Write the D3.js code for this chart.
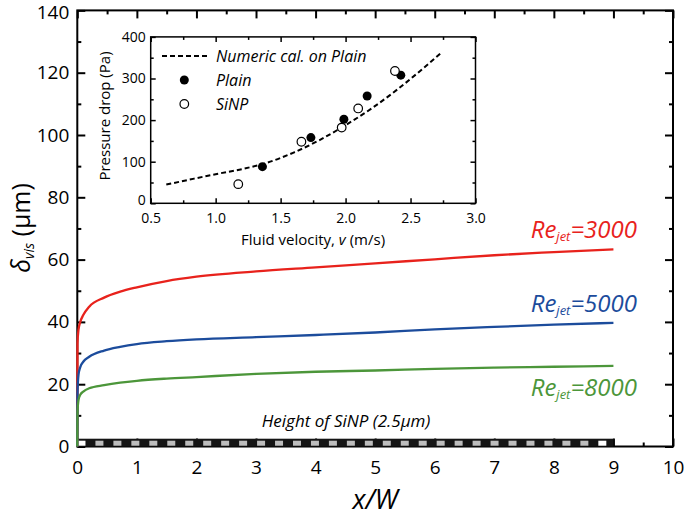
<!DOCTYPE html>
<html lang="en">
<head>
<meta charset="utf-8">
<script src="https://cdn.jsdelivr.net/npm/d3@7/dist/d3.min.js"></script>
<style>
body { margin:0; background:#fff; }
svg { display:block; font-family:"Open Sans", sans-serif; }
.frame { fill:none; stroke:#000; stroke-width:2; }
.tick line { stroke:#000; stroke-width:2; }
.inset .tick line { stroke-width:1.5; }
.curve { fill:none; stroke-width:2.3; }
</style>
</head>
<body>
<svg id="chart" width="685" height="518"></svg>
<script>
// main chart: viscous sublayer thickness vs x/W
var xw = [0, 0.003, 0.02, 0.05, 0.1, 0.2, 0.45, 0.72, 1.0, 1.5, 2.0, 3.0, 4.0, 5.0, 6.0, 7.0, 8.0, 9.0];
var re3000 = [0, 33, 37.5, 40, 42.2, 44.9, 47.8, 49.7, 51.1, 53.1, 54.5, 56.2, 57.5, 58.8, 60.1, 61.4, 62.4, 63.3];
var re5000 = [0, 17, 23, 25.5, 27.2, 28.8, 30.8, 32, 32.9, 33.8, 34.4, 35.1, 35.8, 36.6, 37.6, 38.4, 39.1, 39.7];
var re8000 = [0, 11, 14.9, 16.6, 17.6, 18.7, 19.7, 20.5, 21.1, 21.8, 22.3, 23.3, 24.0, 24.4, 24.9, 25.3, 25.6, 25.9];
var seriesNames = ['3000', '5000', '8000'];
var seriesColors = ['#e8221c', '#1c4c9c', '#4c963a'];
var labelY = [67, 43.3, 16.2];   // label baseline value
var sinpHeight = 2.5, sinpEnd = 9;

// inset: pressure drop vs velocity
var numV = [0.62, 0.8, 1.0, 1.2, 1.4, 1.6, 1.8, 2.0, 2.2, 2.4, 2.6, 2.73];
var numP = [45, 57, 70, 82, 98, 122, 152, 188, 228, 274, 325, 360];
var plainV = [1.36, 1.733, 1.987, 2.166, 2.425];
var plainP = [88, 158, 202, 258, 308];
var sinpV = [1.174, 1.66, 1.97, 2.097, 2.38];
var sinpP = [46, 148, 182, 228, 318];

var svg = d3.select('#chart');
var x = d3.scaleLinear().domain([0, 10]).range([77.3, 673]);
var y = d3.scaleLinear().domain([0, 140]).range([446.5, 10.4]);

// frame
svg.append('rect').attr('class', 'frame')
	.attr('x', x(0)).attr('y', y(140))
	.attr('width', x(10) - x(0)).attr('height', y(0) - y(140));

function ticksOn(g, axis) { g.call(axis); g.select('.domain').remove(); }

var xMaj = d3.range(0, 11), xMin = d3.range(0.5, 10, 1);
var yMaj = d3.range(0, 141, 20), yMin = d3.range(10, 140, 20);

// bottom
svg.append('g').attr('transform', 'translate(0,' + y(0) + ')')
	.call(ticksOn, d3.axisBottom(x).tickValues(xMaj).tickSizeInner(-8).tickPadding(14).tickFormat(d3.format('d')))
	.selectAll('text').attr('font-size', 19).attr('fill', '#000').attr('font-family', 'Open Sans');
svg.append('g').attr('transform', 'translate(0,' + y(0) + ')')
	.call(ticksOn, d3.axisBottom(x).tickValues(xMin).tickSizeInner(-4).tickFormat(''));
// top
svg.append('g').attr('transform', 'translate(0,' + y(140) + ')')
	.call(ticksOn, d3.axisTop(x).tickValues(xMaj).tickSizeInner(-8).tickFormat(''));
svg.append('g').attr('transform', 'translate(0,' + y(140) + ')')
	.call(ticksOn, d3.axisTop(x).tickValues(xMin).tickSizeInner(-4).tickFormat(''));
// left
svg.append('g').attr('transform', 'translate(' + x(0) + ',0)')
	.call(ticksOn, d3.axisLeft(y).tickValues(yMaj).tickSizeInner(-8).tickPadding(8).tickFormat(d3.format('d')))
	.selectAll('text').attr('font-size', 19).attr('fill', '#000').attr('font-family', 'Open Sans')
	.attr('dy', function(d) { return d === 140 ? '0.42em' : '0.32em'; });
svg.append('g').attr('transform', 'translate(' + x(0) + ',0)')
	.call(ticksOn, d3.axisLeft(y).tickValues(yMin).tickSizeInner(-4).tickFormat(''));
// right
svg.append('g').attr('transform', 'translate(' + x(10) + ',0)')
	.call(ticksOn, d3.axisRight(y).tickValues(yMaj).tickSizeInner(-8).tickFormat(''));
svg.append('g').attr('transform', 'translate(' + x(10) + ',0)')
	.call(ticksOn, d3.axisRight(y).tickValues(yMin).tickSizeInner(-4).tickFormat(''));

// axis titles
svg.append('text').attr('x', (x(0) + x(10)) / 2).attr('y', 509)
	.attr('text-anchor', 'middle').attr('font-size', 27).attr('font-style', 'italic')
	.text('x/W');
var yt = svg.append('text').attr('transform', 'translate(30,' + 228 + ') rotate(-90)')
	.attr('text-anchor', 'middle').attr('font-size', 25);
yt.append('tspan').attr('font-style', 'italic').text('δ');
yt.append('tspan').attr('font-style', 'italic').attr('font-size', 14).attr('dy', 4).text('vis');
yt.append('tspan').attr('dy', -4).text(' (μm)');

// SiNP bar
var gBar = svg.append('g');
gBar.append('rect').attr('x', x(0)).attr('y', y(sinpHeight))
	.attr('width', x(sinpEnd) - x(0)).attr('height', y(0) - y(sinpHeight)).attr('fill', '#151515');
var sq = d3.range(0, 30);
gBar.selectAll('rect.sq').data(sq).enter().append('rect').attr('class', 'sq')
	.attr('x', function(d) { return x(0.07 + d * 0.3015) - 4; })
	.attr('y', y(sinpHeight) + 2).attr('width', 8).attr('height', 5)
	.attr('fill', function(d) { return (d === 0 || d === 29) ? '#fff' : '#bdbdbd'; });
svg.append('text').attr('x', 346).attr('y', 427).attr('text-anchor', 'middle')
	.attr('font-size', 17).attr('font-style', 'italic').text('Height of SiNP (2.5μm)');

// curves (drawn red, blue, green)
var line = d3.line().x(function(d) { return x(d[0]); }).y(function(d) { return y(d[1]); })
	.curve(d3.curveMonotoneX);
[re3000, re5000, re8000].forEach(function(s, i) {
	var pts = xw.map(function(v, j) { return [v, s[j]]; });
	svg.append('path').attr('class', 'curve').attr('stroke', seriesColors[i]).attr('d', line(pts));
	var t = svg.append('text').attr('x', 637).attr('y', y(labelY[i]))
		.attr('text-anchor', 'end').attr('font-style', 'italic').attr('font-size', 24)
		.attr('fill', seriesColors[i]);
	t.append('tspan').text('Re');
	t.append('tspan').attr('font-size', 13).attr('dy', 3).text('jet');
	t.append('tspan').attr('dy', -3).text('=' + seriesNames[i]);
});

// ---- inset ----
var ix = d3.scaleLinear().domain([0.5, 3.0]).range([150.7, 475.5]);
var iy = d3.scaleLinear().domain([0, 400]).range([203.3, 36.9]);
var inset = svg.append('g').attr('class', 'inset');
inset.append('rect').attr('x', ix(0.5)).attr('y', iy(400))
	.attr('width', ix(3) - ix(0.5)).attr('height', iy(0) - iy(400)).attr('fill', '#fff')
	.attr('stroke', '#000').attr('stroke-width', 1.5);
var ixMaj = d3.range(0.5, 3.01, 0.5), ixMin = d3.range(0.75, 3, 0.5);
var iyMaj = d3.range(0, 401, 100), iyMin = d3.range(50, 400, 100);
inset.append('g').attr('transform', 'translate(0,' + iy(0) + ')')
	.call(ticksOn, d3.axisBottom(ix).tickValues(ixMaj).tickSizeInner(-5).tickPadding(10).tickFormat(d3.format('.1f')))
	.selectAll('text').attr('font-size', 14).attr('fill', '#000').attr('font-family', 'Open Sans');
inset.append('g').attr('transform', 'translate(0,' + iy(0) + ')')
	.call(ticksOn, d3.axisBottom(ix).tickValues(ixMin).tickSizeInner(-3).tickFormat(''));
inset.append('g').attr('transform', 'translate(0,' + iy(400) + ')')
	.call(ticksOn, d3.axisTop(ix).tickValues(ixMaj).tickSizeInner(-5).tickFormat(''));
inset.append('g').attr('transform', 'translate(0,' + iy(400) + ')')
	.call(ticksOn, d3.axisTop(ix).tickValues(ixMin).tickSizeInner(-3).tickFormat(''));
inset.append('g').attr('transform', 'translate(' + ix(0.5) + ',0)')
	.call(ticksOn, d3.axisLeft(iy).tickValues(iyMaj).tickSizeInner(-5).tickPadding(5).tickFormat(d3.format('d')))
	.selectAll('text').attr('font-size', 14).attr('fill', '#000').attr('font-family', 'Open Sans')
	.attr('dy', function(d) { return d === 0 ? '0.1em' : '0.32em'; });
inset.append('g').attr('transform', 'translate(' + ix(0.5) + ',0)')
	.call(ticksOn, d3.axisLeft(iy).tickValues(iyMin).tickSizeInner(-3).tickFormat(''));
inset.append('g').attr('transform', 'translate(' + ix(3) + ',0)')
	.call(ticksOn, d3.axisRight(iy).tickValues(iyMaj).tickSizeInner(-5).tickFormat(''));
inset.append('g').attr('transform', 'translate(' + ix(3) + ',0)')
	.call(ticksOn, d3.axisRight(iy).tickValues(iyMin).tickSizeInner(-3).tickFormat(''));

var iline = d3.line().x(function(d) { return ix(d[0]); }).y(function(d) { return iy(d[1]); })
	.curve(d3.curveMonotoneX);
inset.append('path').attr('fill', 'none').attr('stroke', '#000').attr('stroke-width', 2)
	.attr('stroke-dasharray', '5,3')
	.attr('d', iline(numV.map(function(v, i) { return [v, numP[i]]; })));
inset.selectAll('circle.plain').data(plainV).enter().append('circle').attr('class', 'plain')
	.attr('cx', function(d) { return ix(d); }).attr('cy', function(d, i) { return iy(plainP[i]); })
	.attr('r', 4.5).attr('fill', '#000');
inset.selectAll('circle.sinp').data(sinpV).enter().append('circle').attr('class', 'sinp')
	.attr('cx', function(d) { return ix(d); }).attr('cy', function(d, i) { return iy(sinpP[i]); })
	.attr('r', 4.3).attr('fill', '#fff').attr('stroke', '#000').attr('stroke-width', 1.2);

// inset legend
inset.append('line').attr('x1', 162).attr('x2', 209).attr('y1', 56).attr('y2', 56)
	.attr('stroke', '#000').attr('stroke-width', 2).attr('stroke-dasharray', '5,3');
inset.append('circle').attr('cx', 184.3).attr('cy', 80).attr('r', 4.5).attr('fill', '#000');
inset.append('circle').attr('cx', 184.3).attr('cy', 104).attr('r', 4.3).attr('fill', '#fff')
	.attr('stroke', '#000').attr('stroke-width', 1.2);
var legText = ['Numeric cal. on Plain', 'Plain', 'SiNP'];
inset.selectAll('text.leg').data(legText).enter().append('text').attr('class', 'leg')
	.attr('x', 216).attr('y', function(d, i) { return 62 + i * 24; })
	.attr('font-size', 16).attr('font-style', 'italic').text(function(d) { return d; });

// inset titles
inset.append('text').attr('x', 313).attr('y', 245).attr('text-anchor', 'middle').attr('font-size', 15)
	.html('Fluid velocity, <tspan font-style="italic">v</tspan> (m/s)');
inset.append('text').attr('transform', 'translate(110,116) rotate(-90)').attr('text-anchor', 'middle')
	.attr('font-size', 15).text('Pressure drop (Pa)');
</script>
</body>
</html>
